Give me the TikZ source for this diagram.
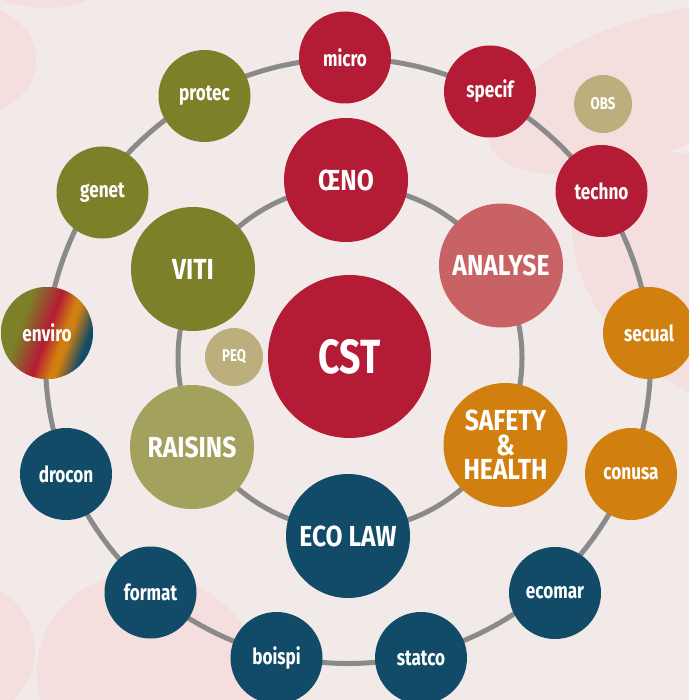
\documentclass[tikz,border=0pt]{standalone}
\usepackage{fontspec}
\newfontfamily\labelfont{Fira Sans}[FakeStretch=0.78]
\newfontfamily\biglabelfont{Fira Sans}[FakeStretch=0.85]
\definecolor{bgpink}{HTML}{F2E9E9}
\definecolor{blobpink}{HTML}{F4DEDE}
\definecolor{ringgrey}{HTML}{8A8A8A}
\definecolor{crimson}{HTML}{B41C35}
\definecolor{rose}{HTML}{C96264}
\definecolor{olive}{HTML}{7C8028}
\definecolor{paleolive}{HTML}{A2A15E}
\definecolor{khaki}{HTML}{BCAF7D}
\definecolor{amber}{HTML}{D18010}
\definecolor{navy}{HTML}{124B68}
\pgfdeclarehorizontalshading{envirosh}{100bp}{color(0bp)=(olive); color(35bp)=(olive); color(50bp)=(crimson); color(59bp)=(amber); color(62bp)=(amber); color(72bp)=(navy); color(100bp)=(navy)}
\tikzset{
  ring/.style={draw=ringgrey, line width=2.5pt},
  bub/.style={circle, fill=#1, text=white, inner sep=0pt},
  outerbub/.style={bub=#1, minimum size=46pt, font=\labelfont\bfseries\fontsize{11}{12}\selectfont},
  innerbub/.style={bub=#1, minimum size=62pt, align=center, font=\biglabelfont\bfseries\fontsize{14.5}{12.2}\selectfont},
  tinybub/.style={bub=#1, minimum size=29pt, font=\labelfont\bfseries\fontsize{8.5}{10}\selectfont}
}
\begin{document}
\begin{tikzpicture}[x=0.5pt, y=0.5pt]
\useasboundingbox (0,0) rectangle (689,-700);
\fill[bgpink] (0,0) rectangle (689,-700);
% background blobs
\begin{scope}
\clip (0,0) rectangle (689,-700);
\fill[blobpink] (45,30) ellipse [x radius=70, y radius=38];
\fill[blobpink] (-30,-60) ellipse [x radius=66, y radius=56];
\fill[blobpink, rotate around={20:(640,-90)}] (640,-90) ellipse [x radius=160, y radius=68];
\fill[blobpink, rotate around={-40:(712,-282)}] (712,-282) ellipse [x radius=160, y radius=105];
\fill[blobpink, rotate around={-25:(150,-680)}] (150,-680) ellipse [x radius=115, y radius=105];
\fill[blobpink] (-40,-650) ellipse [x radius=75, y radius=70];
\end{scope}
% rings
\coordinate (outerc) at (348,-361);
\coordinate (innerc) at (350,-358);
\draw[ring] (outerc) circle [radius=302.5];
\draw[ring] (innerc) circle [radius=172];
% outer ring
\node[outerbub=crimson] (micro) at (345,-57.5) {micro};
\node[outerbub=crimson] (specif) at (490,-91.5) {specif};
\node[outerbub=crimson] (techno) at (601.5,-191) {techno};
\node[outerbub=amber] (secual) at (649,-333) {secual};
\node[outerbub=amber] (conusa) at (631,-474) {conusa};
\node[outerbub=navy] (ecomar) at (555,-593) {ecomar};
\node[outerbub=navy] (statco) at (421,-658) {statco};
\node[outerbub=navy] (boispi) at (276.5,-658) {boispi};
\node[outerbub=navy] (format) at (150.5,-592.5) {format};
\node[outerbub=navy] (drocon) at (66,-474) {drocon};
\node[outerbub=olive, shading=envirosh, shading angle=-20] (enviro) at (47,-333) {enviro};
\node[outerbub=olive] (genet) at (102.5,-192.5) {genet};
\node[outerbub=olive] (protec) at (204.5,-96) {protec};
\node[tinybub=khaki] (obs) at (603,-104) {OBS};
\node[tinybub=khaki] (peq) at (234,-357) {PEQ};
% inner ring
\node[innerbub=crimson] (oeno) at (346,-180) {ŒNO};
\node[innerbub=rose] (analyse) at (501,-265.5) {ANALYSE};
\node[innerbub=amber] (safety) at (505.5,-445) {SAFETY\\\&\\HEALTH};
\node[innerbub=navy] (ecolaw) at (348,-536) {ECO LAW};
\node[innerbub=paleolive] (raisins) at (192,-447) {RAISINS};
\node[innerbub=olive] (viti) at (193,-269) {VITI};
\node[bub=crimson, minimum size=81.5pt, font=\labelfont\bfseries\fontsize{24}{28}\selectfont] (cst) at (349.5,-356.5) {CST};
\end{tikzpicture}
\end{document}
